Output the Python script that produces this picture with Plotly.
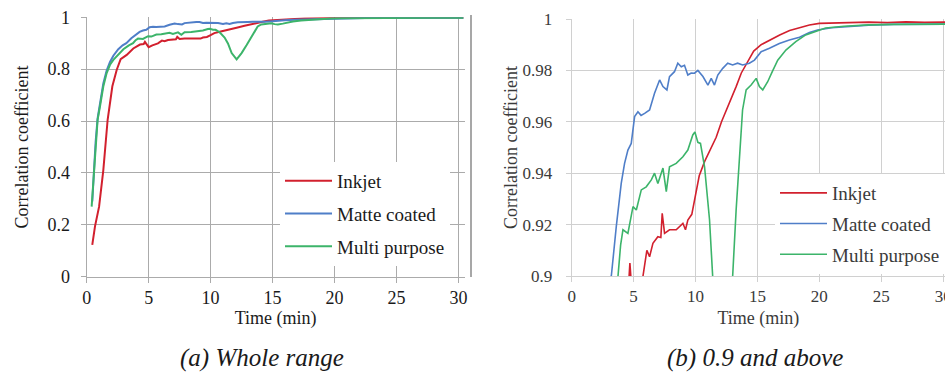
import plotly.graph_objects as go

# ---------------- data ----------------
inkjet_t = [0.45, 0.67, 1.0, 1.34, 1.69, 2.07, 2.42, 2.74, 3.23, 3.76, 4.3, 4.6, 4.7, 4.8, 5.0,
            5.3, 5.75, 6.07, 6.29, 6.56, 6.96, 7.2, 7.31, 7.5, 7.9, 8.44, 8.98, 9.19, 9.38, 9.7,
            10.0, 10.3, 10.73, 11.3, 11.67, 12.1, 12.74, 13.28, 13.7, 14.2, 14.7, 15.3, 16.0,
            16.8, 17.6, 18.4, 19.2, 20.0, 21.0, 22.5, 24.0, 25.5, 27.0, 28.5, 30.4]
inkjet_v = [0.123, 0.194, 0.27, 0.41, 0.605, 0.734, 0.797, 0.839, 0.855, 0.88, 0.895, 0.897, 0.905, 0.897, 0.885,
            0.892, 0.8997, 0.910, 0.9075, 0.9127, 0.9153, 0.915, 0.9244, 0.9166, 0.918, 0.918, 0.9205, 0.918, 0.9218, 0.924,
            0.931, 0.939, 0.9445, 0.950, 0.954, 0.960, 0.9672, 0.9737, 0.979, 0.983, 0.9875, 0.990, 0.9918,
            0.9938, 0.9955, 0.9966, 0.9977, 0.9983, 0.9984, 0.9986, 0.9988, 0.9986, 0.9989, 0.9987, 0.9988]

matte_t = [0.45, 0.55, 0.72, 0.88, 1.07, 1.34, 1.61, 1.88, 2.15, 2.55, 2.9, 3.2, 3.6, 4.0, 4.27,
           4.54, 4.81, 5.08, 5.35, 5.6, 5.89, 6.29, 6.69, 7.1, 7.37, 7.69, 7.9, 8.3, 8.57, 8.85,
           9.11, 9.38, 9.65, 9.92, 10.19, 10.6, 11.0, 11.27, 11.53, 11.8, 12.2, 12.6, 13.0, 13.4,
           13.8, 14.35, 14.76, 15.3, 15.97, 16.77, 17.58, 18.4, 19.2, 19.86, 21.0, 22.5, 24.0,
           26.0, 28.0, 30.4]
matte_v = [0.29, 0.38, 0.52, 0.61, 0.67, 0.745, 0.795, 0.828, 0.852, 0.877, 0.892, 0.90, 0.9192, 0.936, 0.9438,
           0.949, 0.9516, 0.962, 0.9639, 0.9625, 0.9633, 0.9646, 0.9711, 0.9763, 0.9737, 0.9724, 0.9776, 0.9795, 0.9828, 0.9814,
           0.982, 0.9782, 0.979, 0.9789, 0.980, 0.9776, 0.9743, 0.9769, 0.9743, 0.9782, 0.9808, 0.9828, 0.9821, 0.9828,
           0.9821, 0.9828, 0.984, 0.9873, 0.9886, 0.9905, 0.9918, 0.9929, 0.9947, 0.9957, 0.9966, 0.9972, 0.9976,
           0.9979, 0.998, 0.998]

multi_t = [0.4, 0.53, 0.72, 0.88, 1.07, 1.34, 1.61, 1.88, 2.15, 2.55, 2.96, 3.4, 3.74, 3.95, 4.14,
           4.54, 4.95, 5.22, 5.62, 6.02, 6.43, 6.69, 6.96, 7.37, 7.64, 7.9, 8.44, 8.98, 9.38, 9.78,
           9.95, 10.19, 10.4, 10.73, 11.13, 11.4, 11.7, 12.1, 12.5, 12.91, 13.0, 13.28, 13.55, 13.8,
           14.09, 14.49, 14.9, 15.16, 15.43, 15.83, 16.2, 16.64, 17.3, 18.1, 18.9, 19.7, 20.5, 22.0,
           24.0, 26.0, 28.0, 30.4]
multi_v = [0.27, 0.36, 0.515, 0.605, 0.656, 0.733, 0.785, 0.817, 0.836, 0.855, 0.877, 0.892, 0.90, 0.912, 0.918,
           0.9166, 0.927, 0.9257, 0.9335, 0.9347, 0.9374, 0.94, 0.936, 0.942, 0.9328, 0.9425, 0.9438, 0.9464, 0.949, 0.9549,
           0.956, 0.952, 0.9516, 0.9425, 0.922, 0.899, 0.862, 0.838, 0.862, 0.893, 0.90, 0.9257, 0.9477, 0.9646,
           0.9724, 0.9743, 0.9769, 0.9737, 0.9724, 0.9756, 0.9795, 0.984, 0.9879, 0.9912, 0.9938, 0.995, 0.9965, 0.9972,
           0.9977, 0.9979, 0.998, 0.998]

series_names = ["Inkjet", "Matte coated", "Multi purpose"]
series_t = [inkjet_t, matte_t, multi_t]
series_v = [inkjet_v, matte_v, multi_v]
colors = ["#d2202e", "#4f7ec8", "#3cb46a"]

left_yticks = [0, 0.2, 0.4, 0.6, 0.8, 1]
left_yticklabels = ["0", "0.2", "0.4", "0.6", "0.8", "1"]
right_yticks = [0.9, 0.92, 0.94, 0.96, 0.98, 1]
right_yticklabels = ["0.9", "0.92", "0.94", "0.96", "0.98", "1"]
xticks = [0, 5, 10, 15, 20, 25, 30]

W, H = 945, 373
FONT = "'Liberation Serif', 'DejaVu Serif', serif"

fig = go.Figure()
for i, (name, t, v, c) in enumerate(zip(series_names, series_t, series_v, colors)):
    fig.add_trace(go.Scatter(x=t, y=v, mode="lines", name=name, line=dict(color=c, width=2),
                             xaxis="x", yaxis="y", legend="legend", legendgroup="a" + str(i)))
for i, (name, t, v, c) in enumerate(zip(series_names, series_t, series_v, colors)):
    fig.add_trace(go.Scatter(x=t, y=v, mode="lines", name=name, line=dict(color=c, width=1.6),
                             xaxis="x2", yaxis="y2", legend="legend2", legendgroup="b" + str(i)))

def px_x(p):
    return p / W

def px_y(p):
    return 1 - p / H

grid_l = "#ababab"
grid_r = "#d0d0d0"
tick_font_l = dict(family=FONT, size=18, color="#1a1a1a")
tick_font_r = dict(family=FONT, size=17, color="#3a3a3a")

common_x = dict(tickmode="array", tickvals=xticks, showgrid=True, zeroline=False, showline=True,
                ticks="outside", ticklen=5, ticklabeloverflow="allow", automargin=False)

fig.update_layout(
    template="none",
    width=W, height=H, margin=dict(l=0, r=0, t=0, b=0, pad=0),
    paper_bgcolor="white", plot_bgcolor="white",
    font=dict(family=FONT, color="#1a1a1a"),
    xaxis=dict(domain=[px_x(86.7), px_x(464.6)], range=[0, 30.5], anchor="y",
               gridcolor=grid_l, linecolor=grid_l, tickcolor=grid_l, tickfont=tick_font_l,
               title=dict(text="Time (min)", font=dict(family=FONT, size=18, color="#1a1a1a"), standoff=4),
               **common_x),
    yaxis=dict(domain=[px_y(276.7), px_y(17.3)], range=[0, 1], anchor="x", automargin=False,
               tickmode="array", tickvals=left_yticks, ticktext=left_yticklabels,
               showgrid=True, gridcolor=grid_l, zeroline=False, showline=True, linecolor=grid_l,
               ticks="outside", ticklen=5, tickcolor=grid_l, tickfont=tick_font_l, ticklabelstandoff=7,
               title=dict(text="Correlation coefficient", font=dict(family=FONT, size=18, color="#1a1a1a"), standoff=14)),
    xaxis2=dict(domain=[px_x(571.7), 1.0], range=[0, 30.15], anchor="y2",
                gridcolor=grid_r, linecolor=grid_r, tickcolor=grid_r, tickfont=tick_font_r,
                title=dict(text="Time (min)", font=dict(family=FONT, size=18, color="#3a3a3a"), standoff=5),
                **common_x),
    yaxis2=dict(domain=[px_y(276), px_y(19)], range=[0.9, 1.0], anchor="x2", automargin=False,
                tickmode="array", tickvals=right_yticks, ticktext=right_yticklabels,
                showgrid=True, gridcolor=grid_r, zeroline=False, showline=True, linecolor=grid_r,
                ticks="outside", ticklen=5, tickcolor=grid_r, tickfont=tick_font_r, ticklabelstandoff=10,
                title=dict(text="Correlation coefficient", font=dict(family=FONT, size=18, color="#3a3a3a"), standoff=0)),
    legend=dict(x=px_x(280), y=px_y(162), xanchor="left", yanchor="top",
                bgcolor="white", borderwidth=0, font=dict(family=FONT, size=19, color="#1a1a1a"),
                traceorder="grouped", tracegroupgap=5, itemwidth=47),
    legend2=dict(x=px_x(775), y=px_y(174), xanchor="left", yanchor="top",
                 bgcolor="white", borderwidth=0, font=dict(family=FONT, size=19, color="#3a3a3a"),
                 traceorder="grouped", tracegroupgap=3, itemwidth=47),
    showlegend=True,
    annotations=[
        dict(text="(a) Whole range", x=px_x(262), y=px_y(358), xref="paper", yref="paper",
             xanchor="center", yanchor="middle", showarrow=False,
             font=dict(family=FONT, size=25, style="italic", color="#1a1a1a")),
        dict(text="(b) 0.9 and above", x=px_x(755), y=px_y(358), xref="paper", yref="paper",
             xanchor="center", yanchor="middle", showarrow=False,
             font=dict(family=FONT, size=25, style="italic", color="#1a1a1a")),
    ],
    shapes=[dict(type="line", xref="paper", yref="paper", x0=px_x(471), x1=px_x(471),
                 y0=px_y(15), y1=px_y(277), line=dict(color="#8a8a8a", width=1.5))],
)

fig.write_html("out.html", config={"displayModeBar": False},
               post_script="document.body.style.margin='0px';document.body.style.padding='0px';")
